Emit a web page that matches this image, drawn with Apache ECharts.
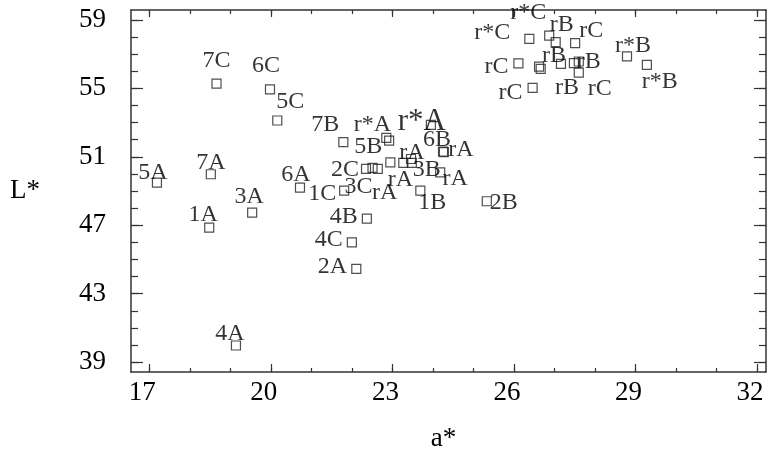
<!DOCTYPE html>
<html>
<head>
<meta charset="utf-8">
<script src="https://cdn.jsdelivr.net/npm/echarts@6/dist/echarts.min.js"></script>
<style>
  html, body { margin: 0; padding: 0; background: #fff; }
  #chart { width: 767px; height: 457px; }
</style>
</head>
<body>
<div id="chart"></div>
<script>
// ---- data ----
const sampleNames = [
  '7C','6C','5C','7A','5A','6A','3A','1A','4A','4B','4C','2A',
  '7B','r*A','5B','r*A','6B','rA','2C','3C','rA','rA','rA','rA','3B','rA','1B','1C','2B',
  'r*C','r*C','rB','rC','rC','rB','rB','rB','rB','rB','rC','rC','r*B','r*B'
];
const aStar = [
  18.66,19.98,20.16,18.52,17.19,20.72,19.54,18.48,19.14,22.37,22.00,22.11,
  21.79,22.85,22.92,23.95,24.25,24.27,22.35,22.51,22.64,22.95,23.27,23.46,23.48,24.18,23.69,21.81,25.33,
  26.38,26.87,27.03,27.51,26.11,26.62,26.66,27.16,27.48,27.60,27.60,26.46,28.79,29.28
];
const lStar = [
  55.28,54.94,53.12,49.98,49.49,49.20,47.74,46.86,39.97,47.39,46.00,44.45,
  51.86,52.10,51.94,52.87,51.31,51.27,50.29,50.35,50.29,50.67,50.64,50.87,50.64,50.09,49.02,49.02,48.40,
  57.89,58.08,57.70,57.64,56.46,56.27,56.14,56.43,56.47,56.57,55.92,55.03,56.87,56.37
];
const xMajorTicks = [17, 20, 23, 26, 29, 32];
const xMinorTicks = [17,18,19,20,21,22,23,24,25,26,27,28,29,30,31,32];
const yMajorTicks = [39, 43, 47, 51, 55, 59];
const yMinorTicks = [39,40,41,42,43,44,45,46,47,48,49,50,51,52,53,54,55,56,57,58,59];

// ---- label layout (pixel offsets of each label from its marker; null = no label) ----
const labelOffsets = [
  [0,-23],[-4,-24],[13,-19],[0,-12],[-4,-10],[-4,-13],[-3,-16],[-6,-13],[-6,-12],[-23,-2],[-23,-3],[-24,-2],
  [-18,-17],[-14,-13],[-21,6],[-9,-3],[-6,-12],[17,-2],[-21,1],[-14,19],[7,24],[10,17],null,[1,-6],[15,7],[15,6],[12,12],[-22,3],[17,1],
  [-37,-6],[-21,-23],[6,-17],[16,-12],[-22,3],[15,-11],null,[6,24],null,[10,0],[21,16],[-22,5],[6,-11],[13,17]
];
const bigLabelIndex = 15;

const FONT = 'Liberation Serif';
const axisColor = '#333';

const points = sampleNames.map((n, i) => ({
  name: n,
  value: [aStar[i], lStar[i]],
  label: labelOffsets[i]
    ? { show: true, fontSize: i === bigLabelIndex ? 31 : 24 }
    : { show: false }
}));

const xMin = 16.55, xMax = 32.22, yMin = 38.42, yMax = 59.58;

function xAx(pos, ticks, len, withLabels) {
  return {
    type: 'value', min: xMin, max: xMax, position: pos,
    axisLine: { show: withLabels, onZero: false, lineStyle: { color: axisColor, width: 1.5 } },
    axisTick: { show: true, inside: true, length: len, customValues: ticks, lineStyle: { color: axisColor, width: 1.2 } },
    axisLabel: withLabels && pos === 'bottom' ? {
      show: true, customValues: ticks, color: '#000', fontFamily: FONT, fontSize: 27, margin: 7,
      padding: [0, 14, 0, 0]
    } : { show: false },
    splitLine: { show: false }
  };
}
function yAx(pos, ticks, len, withLabels) {
  return {
    type: 'value', min: yMin, max: yMax, position: pos,
    axisLine: { show: withLabels, onZero: false, lineStyle: { color: axisColor, width: 1.5 } },
    axisTick: { show: true, inside: true, length: len, customValues: ticks, lineStyle: { color: axisColor, width: 1.2 } },
    axisLabel: withLabels && pos === 'left' ? {
      show: true, customValues: ticks, color: '#000', fontFamily: FONT, fontSize: 27, margin: 25
    } : { show: false },
    splitLine: { show: false }
  };
}

const xAxes = [
  Object.assign(xAx('bottom', xMajorTicks, 8, true), {
    name: 'a*', nameLocation: 'middle', nameGap: 53,
    nameTextStyle: { color: '#000', fontFamily: FONT, fontSize: 27, padding: [0, 10, 0, 0] }
  }),
  xAx('bottom', xMinorTicks, 4, false),
  xAx('top', xMajorTicks, 7, true),
  xAx('top', xMinorTicks, 4, false)
];
const yAxes = [
  Object.assign(yAx('left', yMajorTicks, 12, true), {
    name: 'L*', nameLocation: 'middle', nameGap: 91, nameRotate: 0,
    nameTextStyle: { color: '#000', fontFamily: FONT, fontSize: 27 }
  }),
  yAx('left', yMinorTicks, 7, false),
  yAx('right', yMajorTicks, 12, true),
  yAx('right', yMinorTicks, 7, false)
];

const chart = echarts.init(document.getElementById('chart'), null, { renderer: 'canvas' });
chart.setOption({
  animation: false,
  backgroundColor: '#fff',
  textStyle: { fontFamily: FONT },
  grid: { left: 131, right: 1, top: 10, bottom: 84, containLabel: false },
  xAxis: xAxes,
  yAxis: yAxes,
  series: [{
    type: 'scatter',
    xAxisIndex: 0, yAxisIndex: 0,
    symbol: 'rect',
    symbolSize: 9,
    itemStyle: { color: 'rgba(255,255,255,0)', borderColor: '#222', borderWidth: 1.2 },
    label: {
      show: true, position: 'inside', formatter: '{b}',
      color: '#000', fontFamily: FONT, fontSize: 24
    },
    labelLayout: function (p) {
      const o = labelOffsets[p.dataIndex];
      return o ? { dx: o[0], dy: o[1], hideOverlap: false } : {};
    },
    emphasis: { disabled: true },
    data: points
  }]
});
</script>
</body>
</html>
